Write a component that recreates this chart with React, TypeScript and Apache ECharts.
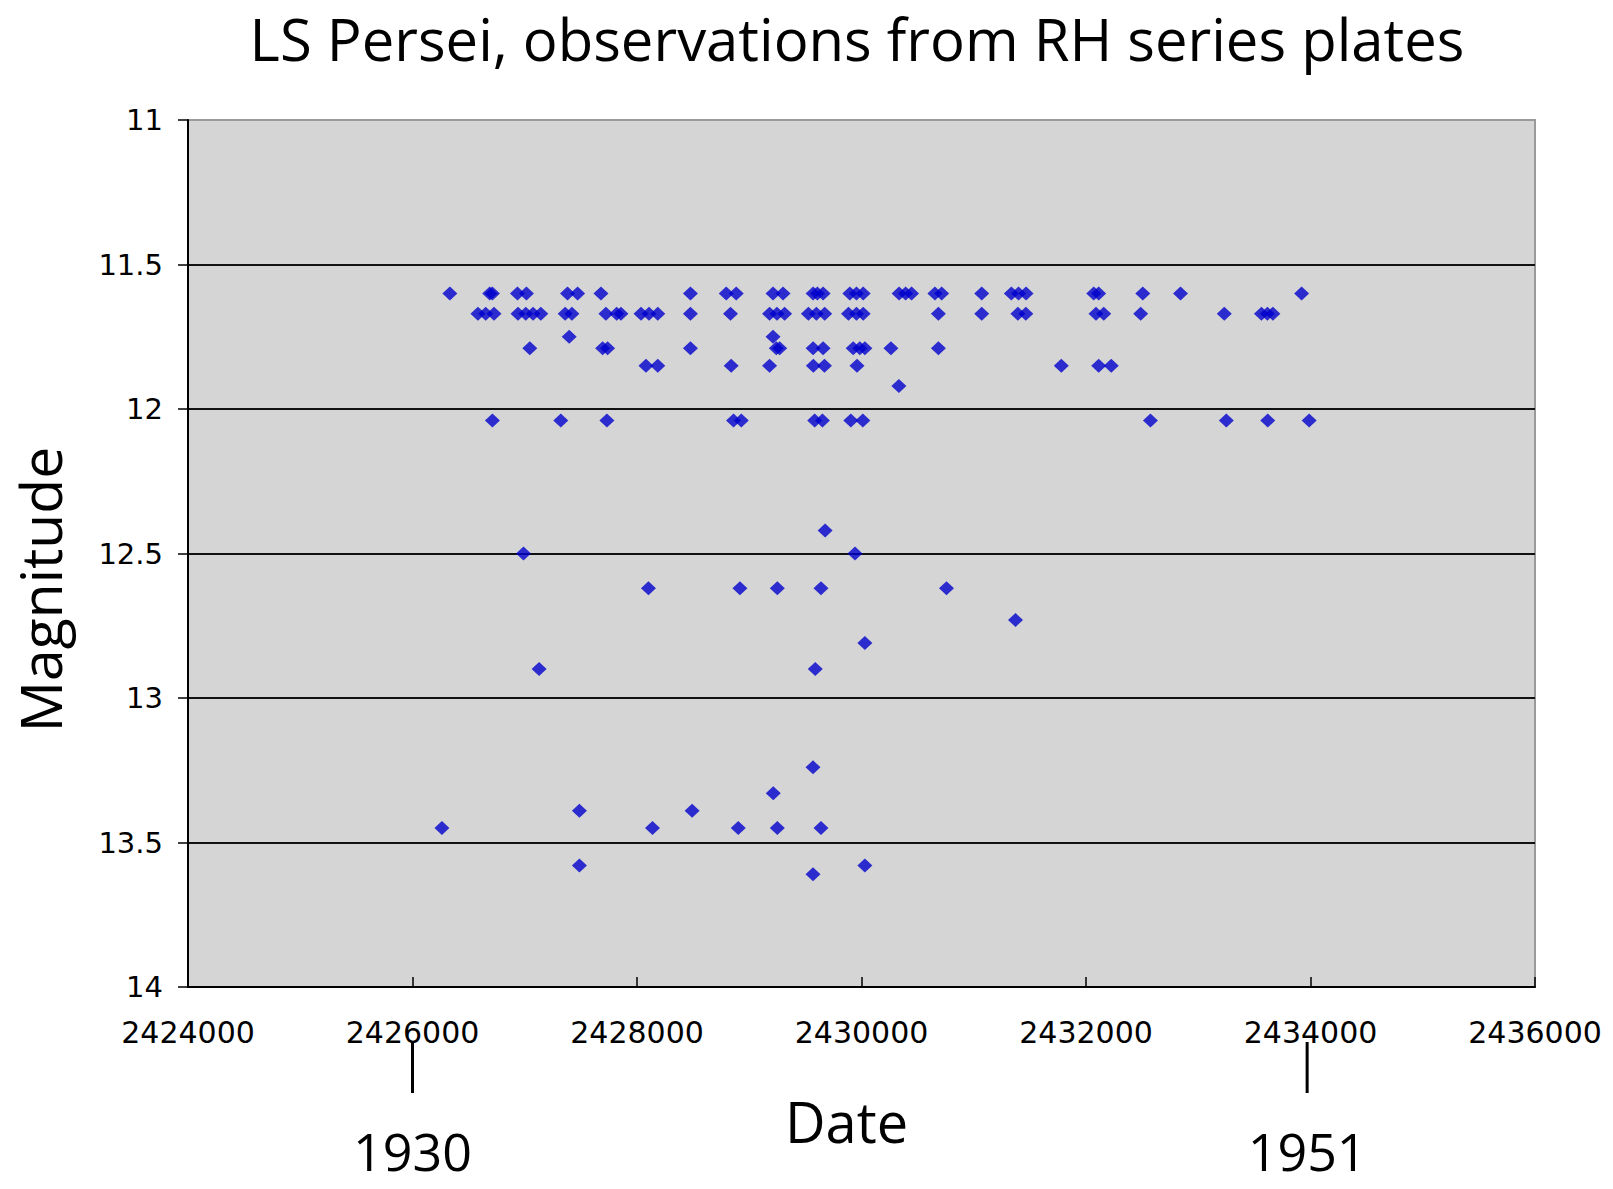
import React, { useEffect, useRef } from "react";
import * as echarts from "echarts";

const titleText = "LS Persei, observations from RH series plates";
const xAxisName = "Date";
const yAxisName = "Magnitude";

// magnitude levels and the Julian dates observed at each level
const magLevels = [11.6, 11.67, 11.75, 11.79, 11.85, 11.92, 12.04, 12.42, 12.5, 12.62, 12.73, 12.81, 12.9, 13.24, 13.33, 13.39, 13.45, 13.58, 13.61];

const jd1160 = [2426333, 2426688, 2426712, 2426935, 2427015, 2427381, 2427471, 2427679, 2428476, 2428795, 2428884, 2429212, 2429301, 2429569, 2429607, 2429658, 2429896, 2429955, 2430015, 2430335, 2430393, 2430446, 2430654, 2430714, 2431071, 2431335, 2431399, 2431466, 2432069, 2432113, 2432506, 2432842, 2433921];
const jd1167 = [2426583, 2426652, 2426726, 2426940, 2427009, 2427074, 2427143, 2427360, 2427420, 2427723, 2427819, 2427857, 2428036, 2428107, 2428185, 2428476, 2428833, 2429181, 2429247, 2429315, 2429527, 2429598, 2429672, 2429884, 2429955, 2430015, 2430685, 2431071, 2431393, 2431464, 2432089, 2432158, 2432487, 2433232, 2433563, 2433616, 2433665];
const jd1175 = [2427396, 2429212];
const jd1179 = [2427045, 2427694, 2427738, 2428476, 2429241, 2429271, 2429569, 2429658, 2429926, 2429985, 2430030, 2430262, 2430685];
const jd1185 = [2428080, 2428185, 2428839, 2429181, 2429571, 2429670, 2429960, 2431780, 2432113, 2432225];
const jd1192 = [2430333];
const jd1204 = [2426712, 2427321, 2427732, 2428860, 2428929, 2429583, 2429652, 2429905, 2430012, 2432574, 2433250, 2433619, 2433988];
const jd1242 = [2429676];
const jd1250 = [2426989, 2429942];
const jd1262 = [2428102, 2428917, 2429250, 2429639, 2430757];
const jd1273 = [2431372];
const jd1281 = [2430030];
const jd1290 = [2427128, 2429588];
const jd1324 = [2429568];
const jd1333 = [2429214];
const jd1339 = [2427487, 2428491];
const jd1345 = [2426262, 2428138, 2428902, 2429250, 2429639];
const jd1358 = [2427487, 2430030];
const jd1361 = [2429568];

const datesAtLevel = [jd1160, jd1167, jd1175, jd1179, jd1185, jd1192, jd1204, jd1242, jd1250, jd1262, jd1273, jd1281, jd1290, jd1324, jd1333, jd1339, jd1345, jd1358, jd1361];

// axis ranges
const xMin = 2424000;
const xMax = 2436000;
const xStep = 2000;
const yMin = 11;
const yMax = 14;
const yStep = 0.5;

// year annotations below the date axis
const yearLabels = ["1930", "1951"];
const yearDates = [2426000, 2433970];

export default function App() {
  const ref = useRef<HTMLDivElement>(null);

  useEffect(() => {
    if (!ref.current) return;
    const chart = echarts.init(ref.current, null, { renderer: "svg" });

    const points: number[][] = [];
    magLevels.forEach((m, i) => {
      datesAtLevel[i].forEach((d) => points.push([d, m]));
    });

    const gridLeft = 188;
    const gridTop = 120;
    const gridRight = 1613 - 1535;
    const gridBottom = 1189 - 987;

    chart.setOption({
      animation: false,
      backgroundColor: "#ffffff",
      title: {
        text: titleText,
        left: 857,
        top: 12,
        padding: 0,
        textAlign: "center",
        textStyle: {
          fontFamily: "Open Sans",
          fontSize: 58,
          lineHeight: 52,
          fontWeight: "normal",
          color: "#000000",
        },
      },
      grid: {
        left: gridLeft,
        top: gridTop,
        right: gridRight,
        bottom: gridBottom,
        show: true,
        backgroundColor: "#d5d5d5",
        borderColor: "#9a9a9a",
        borderWidth: 2,
      },
      xAxis: {
        type: "value",
        min: xMin,
        max: xMax,
        interval: xStep,
        name: xAxisName,
        nameLocation: "middle",
        nameGap: 106,
        nameTextStyle: {
          fontFamily: "Open Sans",
          fontSize: 56,
          color: "#000000",
          padding: [0, 30, 0, 0],
        },
        axisLine: { show: true, lineStyle: { color: "#000000", width: 2 } },
        axisTick: { show: true, inside: true, length: 10, lineStyle: { color: "#000000", width: 1.5 } },
        splitLine: { show: false },
        axisLabel: {
          margin: 30,
          fontFamily: "DejaVu Sans",
          fontSize: 30,
          color: "#000000",
          formatter: (v: number) => String(v),
        },
      },
      yAxis: {
        type: "value",
        inverse: true,
        min: yMin,
        max: yMax,
        interval: yStep,
        name: yAxisName,
        nameLocation: "middle",
        nameRotate: 90,
        nameGap: 120,
        nameTextStyle: {
          fontFamily: "Open Sans",
          fontSize: 57,
          color: "#000000",
          padding: [0, 72, 0, 0],
        },
        axisLine: { show: true, lineStyle: { color: "#000000", width: 2 } },
        axisTick: { show: true, inside: false, length: 10, lineStyle: { color: "#000000", width: 1.5 } },
        splitLine: {
          show: true,
          showMinLine: false,
          showMaxLine: false,
          lineStyle: { color: "#111111", width: 2 },
        },
        axisLabel: {
          margin: 25,
          fontFamily: "DejaVu Sans",
          fontSize: 29,
          color: "#000000",
        },
      },
      series: [
        {
          type: "scatter",
          data: points,
          symbol: "diamond",
          symbolSize: [15, 14],
          itemStyle: { color: "#0000cc" },
        },
      ],
    });

    const graphics: any[] = [];
    yearLabels.forEach((label, i) => {
      const px = chart.convertToPixel({ xAxisIndex: 0 }, yearDates[i]) as number;
      graphics.push({
        type: "line",
        shape: { x1: px, y1: 1042, x2: px, y2: 1093 },
        style: { stroke: "#000000", lineWidth: 3 },
      });
      graphics.push({
        type: "text",
        x: px,
        y: 1150,
        style: {
          text: label,
          fontFamily: "Open Sans",
          fontSize: 52,
          fill: "#000000",
          align: "center",
          verticalAlign: "middle",
          textAlign: "center",
          textVerticalAlign: "middle",
        },
      });
    });
    chart.setOption({ graphic: graphics });

    return () => chart.dispose();
  }, []);

  return (
    <div
      ref={ref}
      style={{ position: "fixed", left: 0, top: 0, width: 1613, height: 1189, background: "#fff" }}
    />
  );
}
